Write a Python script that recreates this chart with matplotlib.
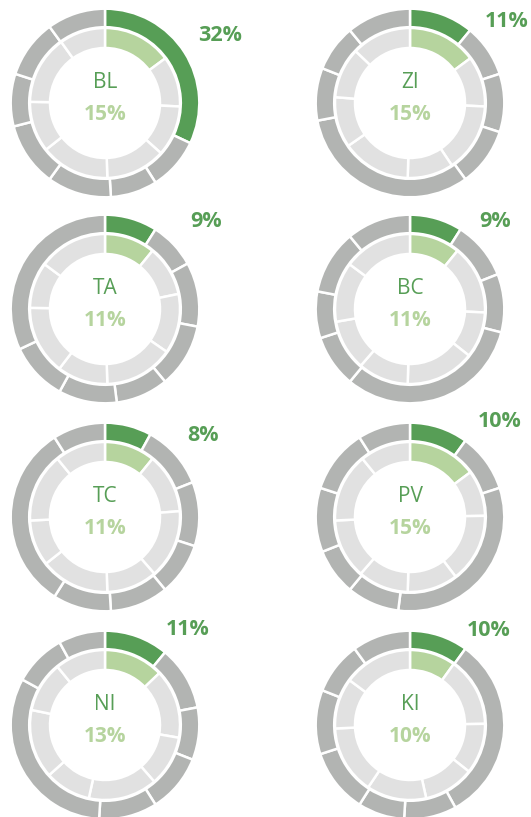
import matplotlib
matplotlib.use("Agg")
import matplotlib.pyplot as plt

# ---- data (pie order, read from the rings) ----
categories = ["BL", "TA", "TC", "NI", "ZI", "BC", "PV", "KI"]
outer_values = [32, 9, 8, 11, 11, 9, 10, 10]
inner_values = [15, 11, 11, 13, 15, 11, 15, 10]
outer_labels = ["32%", "9%", "8%", "11%", "11%", "9%", "10%", "10%"]
inner_labels = ["15%", "11%", "11%", "13%", "15%", "11%", "15%", "10%"]
grid_order = ["BL", "ZI", "TA", "BC", "TC", "PV", "NI", "KI"]

# ---- layout / style ----
W, H = 531, 817
col_x = [105, 410]
row_y = [103, 309, 517, 725]          # image coordinates (from top)
label_offsets = [(115, -70), (97, -84), (101, -90), (85, -90),
                 (98, -84), (90, -98), (83, -98), (79, -97)]

GREEN = "#579E56"
LGREEN = "#B6D49E"
GRAY = "#B2B4B2"
LGRAY = "#E1E1E1"
LW = 1.8

plt.rcParams["font.family"] = ["Open Sans", "DejaVu Sans"]

fig = plt.figure(figsize=(W / 100, H / 100), dpi=100)
ax = fig.add_axes([0, 0, 1, 1])

for i, cat in enumerate(grid_order):
    r, c = divmod(i, 2)
    cx = col_x[c]
    cy = H - row_y[r]
    k = categories.index(cat)
    ov = outer_values[k:] + outer_values[:k]
    iv = inner_values[k:] + inner_values[:k]
    ocol = [GREEN] + [GRAY] * (len(ov) - 1)
    icol = [LGREEN] + [LGRAY] * (len(iv) - 1)
    ax.pie(ov, center=(cx, cy), radius=94.3, startangle=90, counterclock=False,
           colors=ocol, wedgeprops=dict(width=18.5, edgecolor="white", linewidth=LW))
    ax.pie(iv, center=(cx, cy), radius=75.0, startangle=90, counterclock=False,
           colors=icol, wedgeprops=dict(width=20.0, edgecolor="white", linewidth=LW))
    ax.text(cx, cy + 15, cat, ha="center", va="baseline", fontsize=15,
            color=GREEN)
    ax.text(cx, cy - 17, inner_labels[k], ha="center", va="baseline", fontsize=15,
            color=LGREEN, fontweight="bold")
    dx, dy = label_offsets[i]
    ax.text(cx + dx, cy - dy - 8, outer_labels[k], ha="center", va="baseline",
            fontsize=15.5, color=GREEN, fontweight="bold")

ax.set_xlim(0, W)
ax.set_ylim(0, H)
ax.set_aspect("equal")
ax.axis("off")
fig.savefig("out.png", dpi=100)
